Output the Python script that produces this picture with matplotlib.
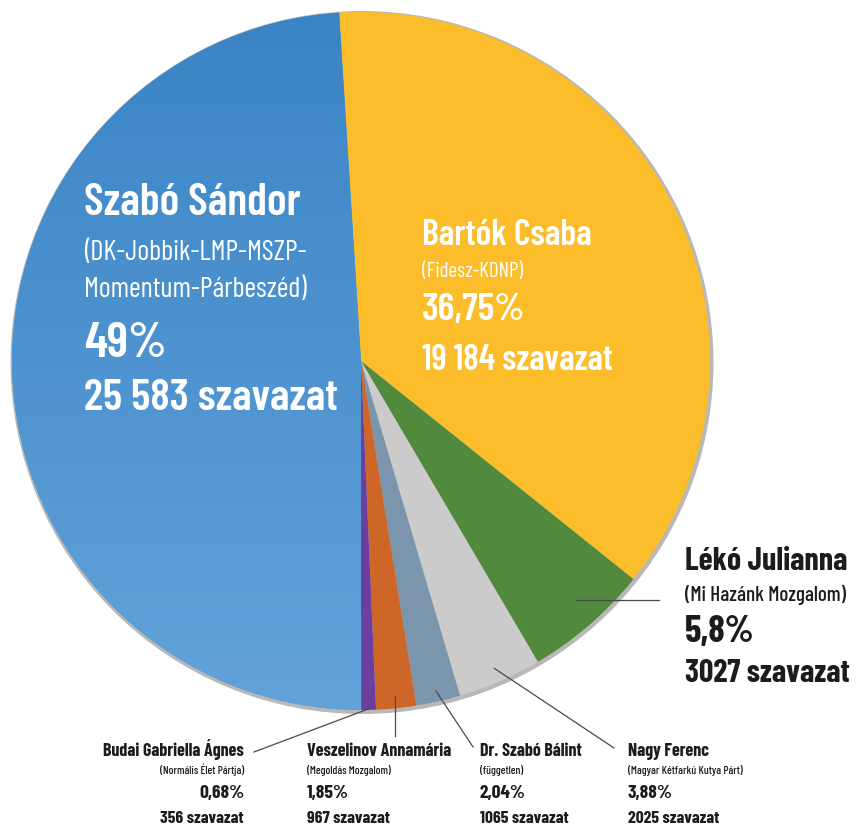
import matplotlib
matplotlib.use("Agg")
import matplotlib.pyplot as plt
from matplotlib import font_manager as fm
from matplotlib.patches import Circle
from matplotlib.colors import LinearSegmentedColormap
import numpy as np

# ---------------- data ----------------
candidates = ["Bartók Csaba", "Lékó Julianna", "Nagy Ferenc", "Dr. Szabó Bálint",
              "Veszelinov Annamária", "Budai Gabriella Ágnes", "Szabó Sándor"]
parties = ["(Fidesz-KDNP)", "(Mi Hazánk Mozgalom)", "(Magyar Kétfarkú Kutya Párt)",
           "(független)", "(Megoldás Mozgalom)", "(Normális Élet Pártja)",
           "(DK-Jobbik-LMP-MSZP-\nMomentum-Párbeszéd)"]
pct_labels = ["36,75%", "5,8%", "3,88%", "2,04%", "1,85%", "0,68%", "49%"]
votes = [19184, 3027, 2025, 1065, 967, 356, 25583]
vote_labels = ["19 184 szavazat", "3027 szavazat", "2025 szavazat", "1065 szavazat",
               "967 szavazat", "356 szavazat", "25 583 szavazat"]
colors = ["#fbbd2a", "#528a3d", "#cbcbcb", "#7b95ac", "#cd6626", "#6b3fa0", "#4a93d2"]

# ---------------- font ----------------
avail = {f.name for f in fm.fontManager.ttflist}
FONT = next(c for c in ["Barlow Condensed", "Oswald", "Antonio", "Fjalla One",
                        "DejaVu Sans"] if c in avail)
plt.rcParams["font.family"] = [FONT, "DejaVu Sans"]

W, H = 858, 828
def Y(y):
    return H - y

fig = plt.figure(figsize=(W / 100, H / 100), dpi=100)
ax = fig.add_axes([0, 0, 1, 1])

cx, cy, r = 361, Y(362), 349

# subtle shadow rim
ax.add_patch(Circle((cx + 1, cy - 1.5), r + 2.5, color="#b8b8b8", zorder=0.5, lw=0))

wedges, _ = ax.pie(votes, colors=colors, startangle=93.6, counterclock=False,
                   center=(cx, cy), radius=r, wedgeprops=dict(linewidth=0))
for w in wedges:
    w.set_zorder(1)

# gradient on the large blue wedge
cmap = LinearSegmentedColormap.from_list("bl", ["#3a84c5", "#62a3da"])
grad = np.linspace(0, 1, 256).reshape(-1, 1)
im = ax.imshow(grad, extent=[cx - r, cx + r, cy - r, cy + r], origin="upper",
               cmap=cmap, aspect="auto", zorder=1.1)
im.set_clip_path(wedges[6])

ax.set_xlim(0, W)
ax.set_ylim(0, H)
ax.set_aspect("auto")
ax.axis("off")

def txt(x, y, s, size, color="#1c1c1c", weight=700, ha="left"):
    ax.text(x, Y(y), s, fontsize=size, color=color, fontweight=weight, ha=ha,
            va="baseline", zorder=5)

# ---- inside labels ----
txt(84, 215, candidates[6], 32.5, "white", 600)
txt(84, 260, parties[6].split("\n")[0], 20.5, "white", 400)
txt(84, 297, parties[6].split("\n")[1], 20.5, "white", 400)
txt(84, 357, pct_labels[6], 36, "white", 600)
txt(84, 410, vote_labels[6], 32.2, "white", 600)

txt(422, 245, candidates[0], 25.9, "white", 600)
txt(422, 277, parties[0], 15.3, "white", 400)
txt(422, 320, pct_labels[0], 28.2, "white", 600)
txt(422, 370, vote_labels[0], 25.5, "white", 600)

# ---- Lékó ----
txt(685, 570, candidates[1], 23)
txt(685, 601, parties[1], 15.2, weight=500)
txt(685, 642, pct_labels[1], 27)
txt(685, 682, vote_labels[1], 23)

# ---- bottom labels ----
bottom = {2: (628, "left"), 3: (480, "left"), 4: (307, "left"), 5: (244, "right")}
for i, (x, ha) in bottom.items():
    txt(x, 756, candidates[i], 13, ha=ha)
    txt(x, 774, parties[i], 8.2, weight=500, ha=ha)
    txt(x, 798, pct_labels[i], 14, ha=ha)
    txt(x, 823, vote_labels[i], 12.7, ha=ha)

# ---- leader lines (start at wedge mid-angles) ----
ends = {1: (659, 601, 0.94), 2: (614, 749, 0.96), 3: (473, 748, 0.97),
        4: (392, 737, 0.965), 5: (254, 753, 0.997)}
for i, (ex, ey, frac) in ends.items():
    w = wedges[i]
    mid = np.deg2rad((w.theta1 + w.theta2) / 2)
    sx, sy = cx + frac * r * np.cos(mid), cy + frac * r * np.sin(mid)
    if i == 1:
        ax.plot([sx, ex], [Y(601), Y(ey)], color="#4a4a4a", lw=0.9, zorder=4)
    elif i == 4:
        ax.plot([sx, sx], [sy, Y(ey)], color="#4a4a4a", lw=0.9, zorder=4)
    else:
        ax.plot([sx, ex], [sy, Y(ey)], color="#4a4a4a", lw=0.9, zorder=4)

fig.savefig("out.png", dpi=100)
